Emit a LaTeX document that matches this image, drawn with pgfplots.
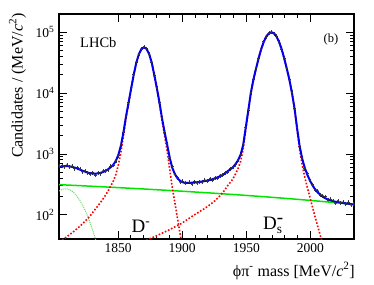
\documentclass[border=0pt]{standalone}
\usepackage{fontspec}
\setmainfont{Liberation Serif}
\usepackage{pgfplots}
\pgfplotsset{compat=1.18}
\definecolor{fitblue}{RGB}{0,0,240}
\definecolor{sigred}{RGB}{250,0,0}
\definecolor{bkggreen}{RGB}{0,230,0}
\definecolor{reflgreen}{RGB}{90,225,90}
\begin{document}
\begin{tikzpicture}
\path[use as bounding box] (-59pt,-45pt) rectangle (315pt,239pt);
\begin{axis}[
  at={(0pt,0pt)}, anchor=south west,
  scale only axis, width=295pt, height=225pt,
  xmin=1804, xmax=2034,
  ymode=log, ymin=40, ymax=2e5,
  xtick={1850,1900,1950,2000},
  minor x tick num=4,
  ytick={100,1000,10000,100000},
  yticklabels={10\textsuperscript{2},10\textsuperscript{3},10\textsuperscript{4},10\textsuperscript{5}},
  /pgf/number format/assume math mode=true,
  /pgf/number format/1000 sep={},
  tick align=inside,
  major tick length=8pt, minor tick length=4pt,
  every tick/.style={black, line width=0.8pt},
  axis line style={line width=1.2pt},
  tick label style={font=\fontsize{13.5}{15}\selectfont},
  xticklabel style={yshift=-1pt},
  yticklabel style={xshift=-1pt},
  clip=true,
]
% data
\addplot[black!80, only marks, mark=*, mark size=0.8pt,
  error bars/.cd, y dir=both, y fixed relative=0.075, x dir=both, x fixed=1,
  error bar style={line width=0.6pt, black!75}, error mark=none]
coordinates {
(1804.3,638)(1806.3,641)(1808.3,618)(1810.3,656)(1812.3,619)(1814.3,631)(1816.3,578)(1818.3,599)
(1820.3,558)(1822.3,510)(1824.3,526)(1826.3,494)(1828.3,467)(1830.3,495)(1832.3,451)(1834.3,489)
(1836.3,478)(1838.3,520)(1840.3,531)(1842.3,543)(1844.3,630)(1846.3,651)(1848.3,781)(1850.3,940)
(1852.3,1421)(1854.3,2286)(1856.3,4254)(1858.3,7024)(1860.3,12224)(1862.3,20139)(1864.3,32100)
(1866.3,43852)(1868.3,52740)(1870.3,56792)(1872.3,53805)(1874.3,43413)(1876.3,32100)(1878.3,19693)
(1880.3,12224)(1882.3,6954)(1884.3,3946)(1886.3,2264)(1888.3,1477)(1890.3,847)(1892.3,616)
(1894.3,460)(1896.3,409)(1898.3,349)(1900.3,354)(1902.3,331)
(1905.6,342)(1907.6,323)(1909.6,353)(1911.6,336)(1913.6,350)(1915.6,342)(1917.6,370)(1919.6,361)
(1921.6,390)(1923.6,372)(1925.6,404)(1927.6,404)(1929.6,443)(1931.6,446)(1933.6,493)(1935.6,505)
(1937.6,577)(1939.6,605)(1941.6,668)(1943.6,804)(1945.6,960)(1947.6,1426)(1949.6,2693)(1951.6,5271)
(1953.6,10104)(1955.6,16804)(1957.6,25576)(1959.6,36977)(1961.6,52680)(1963.6,70072)(1965.6,84454)
(1967.6,96136)(1969.6,100194)(1971.6,95172)(1973.6,86154)(1975.6,69370)(1977.6,52141)(1979.6,37710)
(1981.6,25306)(1983.6,16616)(1985.6,10285)(1987.6,5619)(1989.6,2746)(1991.6,1326)(1993.6,863)
(1995.6,575)(1997.6,474)(1999.6,361)(2001.6,312)(2003.6,255)(2005.6,247)(2007.6,210)(2009.6,205)
(2011.6,198)(2013.6,174)(2015.6,180)(2017.6,171)(2019.6,157)(2021.6,169)(2023.6,157)(2025.6,161)
(2027.6,149)(2029.6,160)(2031.6,147)(2033.6,151)
};
% linear background
\addplot[bkggreen, line width=1.5pt] coordinates {
(1804,313)(1824,298.7)(1844,284.3)(1864,270.0)(1884,255.6)(1904,241.3)(1924,226.9)
(1944,212.6)(1964,198.2)(1984,183.9)(2004,169.5)(2024,155.2)(2034,148.0)
};
% low-mass component
\addplot[reflgreen, line width=1pt, dash pattern=on 1pt off 1pt] coordinates {
(1804,246)(1806,260)(1808,267)(1810,267)(1812,260)(1814,246)(1816,226)(1818,202)(1820,176)
(1822,149)(1824,123)(1826,98.3)(1828,76.6)(1830,58.0)(1832,42.7)(1834,30.6)
};
% D- signal
\addplot[sigred, line width=1.6pt, dash pattern=on 1.6pt off 1.8pt] coordinates {
(1804.3,35.6)(1806.3,38.2)(1808.3,40.9)(1810.3,43.9)(1812.3,47.2)(1814.3,50.8)(1816.3,55.0)
(1818.3,59.7)(1820.3,64.9)(1822.3,71.1)(1824.3,78.0)(1826.3,86.5)(1828.3,95.9)(1830.3,109)
(1832.3,124)(1834.3,140)(1836.3,159)(1838.3,183)(1840.3,210)(1842.3,247)(1844.3,296)(1846.3,356)
(1848.3,459)(1850.3,664)(1852.3,1076)(1854.3,2005)(1856.3,3908)(1858.3,6792)(1860.3,11800)
(1862.3,20040)(1864.3,31480)(1866.3,43550)(1868.3,52970)(1870.3,56490)(1872.3,52970)(1874.3,43550)
(1876.3,31480)(1878.3,19590)(1880.3,11800)(1882.3,6792)(1884.3,3565)(1886.3,2005)(1888.3,1127)
(1890.3,565)(1892.3,283)(1894.3,159)(1896.3,89.5)(1898.3,50.4)(1900.3,28.3)(1902.3,15.9)
};
% Ds- signal
\addplot[sigred, line width=1.6pt, dash pattern=on 1.6pt off 1.8pt] coordinates {
(1869.6,36.3)(1879.6,44.7)(1889.6,56.2)(1899.6,72.4)(1905.6,87.9)(1909.6,100)(1913.6,113)
(1917.6,127)(1921.6,146)(1925.6,170)(1929.6,207)(1931.6,229)(1933.6,263)(1935.6,302)(1937.6,343)
(1939.6,389)(1941.6,468)(1943.6,575)(1945.6,759)(1947.6,1202)(1949.6,2512)(1951.6,5012)
(1953.6,10000)(1955.6,16600)(1957.6,25120)(1959.6,37150)(1961.6,52480)(1963.6,69180)(1965.6,85110)
(1967.6,95940)(1969.6,100000)(1971.6,95940)(1973.6,85110)(1975.6,69180)(1977.6,52480)(1979.6,37150)
(1981.6,25120)(1983.6,16600)(1985.6,10000)(1987.6,5495)(1989.6,2512)(1991.6,1175)(1993.6,661)
(1995.6,417)(1997.6,282)(1999.6,195)(2001.6,135)(2003.6,93.3)(2005.6,66.1)(2007.6,46.8)
(2009.6,33.1)(2011.6,23.4)
};
% total fit
\addplot[fitblue, line width=2pt] coordinates {
(1804.3,608)(1806.3,622)(1808.3,631)(1810.3,631)(1812.3,625)(1814.3,613)(1816.3,596)(1818.3,576)
(1820.3,553)(1822.3,531)(1824.3,511)(1826.3,494)(1828.3,482)(1830.3,476)(1832.3,475)(1834.3,479)
(1836.3,488)(1838.3,505)(1840.3,526)(1842.3,560)(1844.3,606)(1846.3,664)(1848.3,766)(1850.3,969)
(1852.3,1380)(1854.3,2309)(1856.3,4212)(1858.3,7095)(1860.3,12103)(1862.3,20342)(1864.3,31782)
(1866.3,43852)(1868.3,53272)(1870.3,56792)(1872.3,53272)(1874.3,43852)(1876.3,31782)(1878.3,19892)
(1880.3,12103)(1882.3,7096)(1884.3,3869)(1886.3,2310)(1888.3,1434)(1890.3,873)(1892.3,592)
(1894.3,469)(1896.3,401)(1898.3,364)(1900.3,344)(1902.3,334)
(1905.6,335)(1907.6,337)(1909.6,339)(1911.6,343)(1913.6,347)(1915.6,353)(1917.6,359)(1919.6,365)
(1921.6,375)(1923.6,384)(1925.6,396)(1927.6,412)(1929.6,430)(1931.6,451)(1933.6,483)(1935.6,521)
(1937.6,560)(1939.6,605)(1941.6,682)(1943.6,788)(1945.6,970)(1947.6,1412)(1949.6,2720)(1951.6,5219)
(1953.6,10206)(1955.6,16804)(1957.6,25323)(1959.6,37351)(1961.6,52680)(1963.6,69378)(1965.6,85307)
(1967.6,96136)(1969.6,100194)(1971.6,96133)(1973.6,85301)(1975.6,69370)(1977.6,52668)(1979.6,37337)
(1981.6,25306)(1983.6,16784)(1985.6,10183)(1987.6,5676)(1989.6,2692)(1991.6,1353)(1993.6,838)
(1995.6,593)(1997.6,456)(1999.6,368)(2001.6,306)(2003.6,263)(2005.6,235)(2007.6,214)(2009.6,199)
(2011.6,187)(2013.6,179)(2015.6,173)(2017.6,168)(2019.6,164)(2021.6,161)(2023.6,159)(2025.6,156)
(2027.6,154)(2029.6,152)(2031.6,150)(2033.6,148)
};
\end{axis}
% labels
\node[rotate=90, anchor=east, inner sep=0pt, font=\fontsize{16}{18}\selectfont] at (-41.5pt,226pt)
  {Candidates / (MeV/\textit{c}\textsuperscript{2})};
\node[anchor=east, inner sep=0pt, font=\fontsize{16}{18}\selectfont] at (296pt,-32pt)
  {ϕπ\textsuperscript{-} mass [MeV/\textit{c}\textsuperscript{2}]};
\node[anchor=west, inner sep=0pt, font=\fontsize{14.5}{16}\selectfont] at (21pt,196pt) {LHCb};
\node[inner sep=0pt, font=\fontsize{12.5}{14}\selectfont] at (272pt,200pt) {(b)};
\node[anchor=base west, inner sep=0pt, font=\fontsize{19}{21}\selectfont] at (72.5pt,7pt)
  {D\textsuperscript{-}};
\node[anchor=base west, inner sep=0pt, font=\fontsize{19}{21}\selectfont] at (204pt,9.5pt)
  {$\mathrm{D}_{\mathrm{s}}^{\mbox{-}}$};
\end{tikzpicture}
\end{document}
